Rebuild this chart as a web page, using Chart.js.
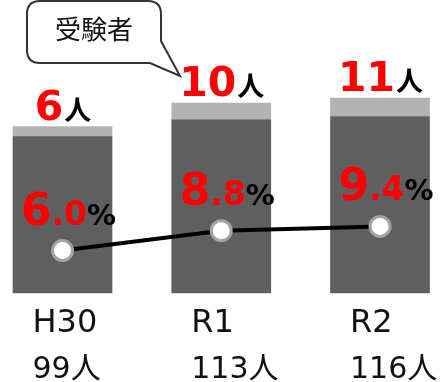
<!DOCTYPE html>
<html>
<head>
<meta charset="utf-8">
<script src="https://cdn.jsdelivr.net/npm/chart.js@4/dist/chart.umd.min.js"></script>
<style>
    html, body { margin: 0; padding: 0; background: #fff; }
    #wrap { position: relative; width: 440px; height: 382px; }
</style>
</head>
<body>
<div id="wrap"><canvas id="rateChart" width="440" height="382"></canvas></div>
<script>
// data
var years = ['H30', 'R1', 'R2'];
var totalPeople = [99, 113, 116];       // 受験者 (bar total)
var passPeople = [6, 10, 11];           // light grey top segment
var otherPeople = [93, 103, 105];       // dark grey part
var passRate = [6.0, 8.8, 9.4];         // line, %

var FONT = '"DejaVu Sans", "Noto Sans CJK JP", sans-serif';
var JP = '"Noto Sans CJK JP", "DejaVu Sans", sans-serif';

var labelPlugin = {
    id: 'labelPlugin',
    afterDatasetsDraw: function(chart) {
        var ctx = chart.ctx;
        var xs = chart.scales.x, ys = chart.scales.y, y2 = chart.scales.y2;
        ctx.save();
        ctx.textBaseline = 'alphabetic';
        for (var i = 0; i < years.length; i++) {
            var cx = xs.getPixelForValue(i);
            var topY = ys.getPixelForValue(totalPeople[i]);
            var baseY = ys.getPixelForValue(0);

            // top label: "6人"
            ctx.font = 'bold 41px ' + FONT;
            var numTxt = String(passPeople[i]);
            var w1 = ctx.measureText(numTxt).width;
            ctx.font = 'bold 27px ' + JP;
            var w2 = ctx.measureText('人').width;
            var sx = cx - (w1 + w2) / 2;
            var by = topY - 7;
            ctx.textAlign = 'left';
            ctx.fillStyle = '#ff0000';
            ctx.font = 'bold 41px ' + FONT;
            ctx.fillText(numTxt, sx, by);
            ctx.fillStyle = '#000';
            ctx.font = 'bold 27px ' + JP;
            ctx.fillText('人', sx + w1 + 1, by);

            // percent label: big int, small decimals, black %
            var parts = passRate[i].toFixed(1).split('.');
            ctx.font = 'bold 44px ' + FONT;
            var a = ctx.measureText(parts[0]).width;
            ctx.font = 'bold 33px ' + FONT;
            var b = ctx.measureText('.' + parts[1]).width;
            ctx.font = 'bold 29px ' + FONT;
            var c = ctx.measureText('%').width;
            var py = y2.getPixelForValue(passRate[i]) - 26;
            var px = cx + 6 - (a + b + c) / 2;
            ctx.fillStyle = '#ff0000';
            ctx.font = 'bold 44px ' + FONT;
            ctx.fillText(parts[0], px, py);
            ctx.font = 'bold 33px ' + FONT;
            ctx.fillText('.' + parts[1], px + a, py);
            ctx.fillStyle = '#000';
            ctx.font = 'bold 29px ' + FONT;
            ctx.fillText('%', px + a + b, py);

            // category labels under bars
            ctx.fillStyle = '#111';
            ctx.font = '32px ' + FONT;
            ctx.fillText(years[i], cx - 30, baseY + 39);
            ctx.font = '30px ' + FONT;
            ctx.fillText(totalPeople[i] + '人', cx - 30, baseY + 85);
        }

        // callout bubble "受験者"
        ctx.beginPath();
        var l = 27, t = 1, r = 161, b2 = 63, rad = 13;
        ctx.moveTo(l + rad, t);
        ctx.lineTo(r - rad, t);
        ctx.quadraticCurveTo(r, t, r, t + rad);
        ctx.lineTo(r, 41);
        ctx.lineTo(180, 76);
        ctx.lineTo(150, b2);
        ctx.lineTo(l + rad, b2);
        ctx.quadraticCurveTo(l, b2, l, b2 - rad);
        ctx.lineTo(l, t + rad);
        ctx.quadraticCurveTo(l, t, l + rad, t);
        ctx.closePath();
        ctx.fillStyle = '#fff';
        ctx.fill();
        ctx.lineWidth = 2;
        ctx.strokeStyle = '#333';
        ctx.stroke();
        ctx.fillStyle = '#111';
        ctx.font = '26px ' + JP;
        ctx.textAlign = 'center';
        ctx.textBaseline = 'middle';
        ctx.fillText('受験者', 94, 29);
        ctx.restore();
    }
};

var ctx = document.getElementById('rateChart').getContext('2d');
var chart = new Chart(ctx, {
    type: 'bar',
    data: {
        labels: years,
        datasets: [{
            type: 'line',
            label: '合格率',
            data: passRate,
            yAxisID: 'y2',
            order: 0,
            borderColor: '#000',
            borderWidth: 4,
            pointRadius: 10,
            pointBorderWidth: 3,
            pointBackgroundColor: '#fff',
            pointBorderColor: '#a3a3a3',
            tension: 0,
            clip: false
        }, {
            label: 'その他',
            data: otherPeople,
            backgroundColor: '#5f5f5f',
            order: 1,
            barThickness: 99,
            clip: false
        }, {
            label: '合格者',
            data: passPeople,
            backgroundColor: '#b3b3b3',
            order: 1,
            barThickness: 99,
            clip: false
        }]
    },
    options: {
        responsive: false,
        animation: false,
        layout: {
            padding: { left: 62.5, right: 60, top: 24, bottom: 89 }
        },
        plugins: {
            legend: { display: false },
            tooltip: { enabled: false }
        },
        scales: {
            x: { display: false, stacked: true, offset: false },
            y: { display: false, stacked: true, min: 0, max: 160 },
            y2: { display: false, min: 0, max: 38, position: 'right' }
        }
    },
    plugins: [labelPlugin]
});
</script>
</body>
</html>
